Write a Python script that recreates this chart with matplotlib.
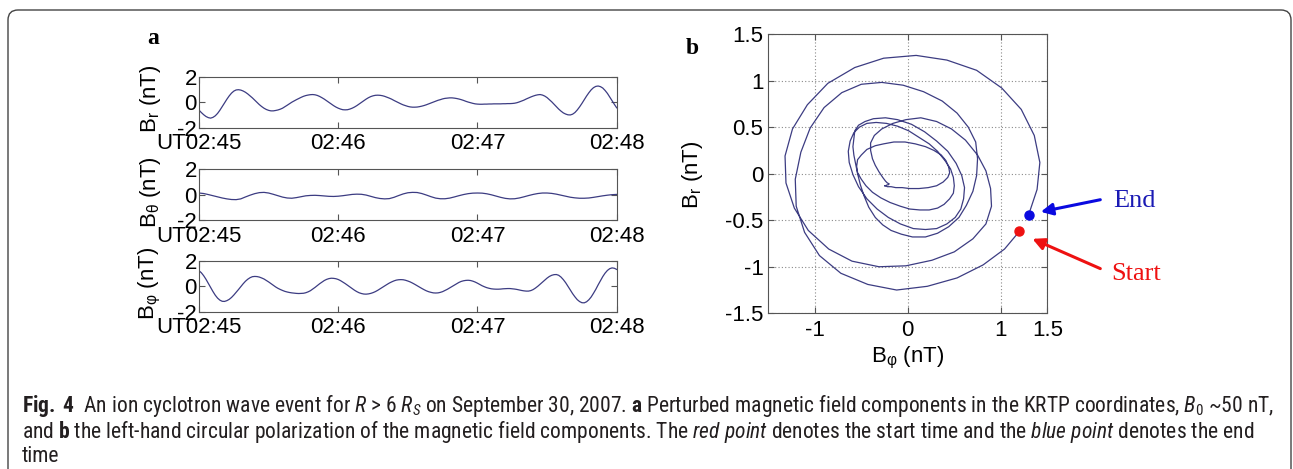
import numpy as np
import matplotlib
matplotlib.use("Agg")
import matplotlib.pyplot as plt
from matplotlib import font_manager as fm
from matplotlib.patches import FancyBboxPatch

W, H = 1293, 469

# --- Données (secondes depuis 02:45:00 UT)
t_sec = np.arange(0, 181, 1)      # B_r et B_phi, pas de 1 s
t_theta = np.arange(0, 181, 2)    # B_theta, pas de 2 s

b_r = [
    -0.62, -0.81, -0.98, -1.12, -1.21, -1.25, -1.19, -1.07, -0.88, -0.63,
    -0.35, -0.06, 0.23, 0.49, 0.71, 0.87, 0.96, 0.98, 0.95, 0.88,
    0.78, 0.65, 0.50, 0.34, 0.16, -0.02, -0.19, -0.34, -0.47, -0.57,
    -0.64, -0.68, -0.68, -0.65, -0.61, -0.55, -0.47, -0.36, -0.24, -0.12,
    0.00, 0.10, 0.20, 0.29, 0.38, 0.46, 0.52, 0.56, 0.59, 0.60,
    0.58, 0.53, 0.45, 0.35, 0.24, 0.11, -0.02, -0.15, -0.27, -0.38,
    -0.47, -0.54, -0.59, -0.60, -0.59, -0.54, -0.47, -0.38, -0.27, -0.14,
    -0.01, 0.12, 0.24, 0.35, 0.44, 0.50, 0.54, 0.55, 0.54, 0.51,
    0.46, 0.39, 0.32, 0.24, 0.14, 0.05, -0.04, -0.13, -0.21, -0.27,
    -0.33, -0.37, -0.39, -0.39, -0.38, -0.35, -0.31, -0.26, -0.20, -0.13,
    -0.06, 0.01, 0.08, 0.15, 0.20, 0.26, 0.30, 0.32, 0.34, 0.34,
    0.32, 0.29, 0.25, 0.20, 0.14, 0.07, 0.01, -0.04, -0.09, -0.13,
    -0.15, -0.16, -0.16, -0.15, -0.15, -0.14, -0.14, -0.13, -0.13, -0.13,
    -0.13, -0.12, -0.12, -0.11, -0.11, -0.10, -0.08, -0.04, 0.02, 0.09,
    0.16, 0.25, 0.33, 0.41, 0.48, 0.54, 0.58, 0.60, 0.56, 0.48,
    0.36, 0.20, 0.03, -0.16, -0.35, -0.54, -0.70, -0.84, -0.93, -0.99,
    -1.00, -0.94, -0.81, -0.61, -0.37, -0.10, 0.19, 0.48, 0.74, 0.97,
    1.14, 1.24, 1.27, 1.22, 1.11, 0.92, 0.69, 0.41, 0.12, -0.17,
    -0.44,
]

b_phi = [
    1.20, 1.04, 0.81, 0.53, 0.21, -0.12, -0.43, -0.72, -0.95, -1.11,
    -1.20, -1.21, -1.15, -1.05, -0.90, -0.71, -0.50, -0.28, -0.05, 0.17,
    0.37, 0.53, 0.65, 0.73, 0.75, 0.74, 0.70, 0.63, 0.55, 0.44,
    0.32, 0.19, 0.05, -0.07, -0.18, -0.27, -0.35, -0.42, -0.47, -0.51,
    -0.54, -0.56, -0.58, -0.59, -0.58, -0.57, -0.53, -0.46, -0.37, -0.24,
    -0.11, 0.04, 0.18, 0.31, 0.43, 0.52, 0.58, 0.61, 0.60, 0.57,
    0.51, 0.42, 0.31, 0.19, 0.06, -0.08, -0.21, -0.33, -0.44, -0.53,
    -0.59, -0.63, -0.64, -0.62, -0.58, -0.52, -0.44, -0.34, -0.23, -0.11,
    0.01, 0.12, 0.23, 0.32, 0.40, 0.46, 0.49, 0.50, 0.49, 0.45,
    0.39, 0.32, 0.23, 0.13, 0.02, -0.08, -0.19, -0.29, -0.38, -0.45,
    -0.50, -0.54, -0.55, -0.54, -0.50, -0.44, -0.35, -0.26, -0.15, -0.03,
    0.08, 0.19, 0.28, 0.36, 0.41, 0.44, 0.45, 0.43, 0.38, 0.31,
    0.22, 0.12, 0.02, -0.06, -0.13, -0.18, -0.22, -0.24, -0.25, -0.25,
    -0.24, -0.22, -0.21, -0.20, -0.20, -0.22, -0.24, -0.27, -0.31, -0.35,
    -0.38, -0.40, -0.40, -0.36, -0.28, -0.16, -0.02, 0.14, 0.31, 0.47,
    0.62, 0.75, 0.84, 0.89, 0.90, 0.84, 0.70, 0.50, 0.26, -0.02,
    -0.31, -0.60, -0.85, -1.07, -1.22, -1.31, -1.32, -1.24, -1.08, -0.86,
    -0.57, -0.26, 0.09, 0.42, 0.74, 1.01, 1.22, 1.36, 1.42, 1.39,
    1.30,
]

b_theta = [
    0.14, 0.10, 0.02, -0.07, -0.16, -0.25, -0.32, -0.37, -0.38, -0.32,
    -0.17, -0.03, 0.09, 0.17, 0.19, 0.14, 0.04, -0.07, -0.18, -0.25,
    -0.27, -0.22, -0.15, -0.08, -0.05, -0.04, -0.06, -0.09, -0.12, -0.13,
    -0.11, -0.07, -0.02, 0.03, 0.05, 0.04, -0.02, -0.12, -0.22, -0.29,
    -0.32, -0.30, -0.20, -0.06, 0.07, 0.16, 0.19, 0.18, 0.10, -0.02,
    -0.15, -0.26, -0.31, -0.31, -0.26, -0.17, -0.07, 0.02, 0.09, 0.13,
    0.14, 0.13, 0.08, 0.00, -0.10, -0.20, -0.28, -0.32, -0.31, -0.25,
    -0.16, -0.06, 0.03, 0.10, 0.14, 0.14, 0.11, 0.05, -0.03, -0.11,
    -0.19, -0.24, -0.27, -0.27, -0.25, -0.20, -0.14, -0.08, -0.03, 0.01,
    0.03,
]

ts_ticks = [0, 60, 120, 180]
ts_ticklabels = ["UT02:45", "02:46", "02:47", "02:48"]
ts_ylabels = ["B$_\\mathsf{r}$ (nT)", "B$_\\mathsf{θ}$ (nT)", "B$_\\mathsf{φ}$ (nT)"]

hodo_xticks = [-1, 0, 1, 1.5]
hodo_yticks = [-1.5, -1, -0.5, 0, 0.5, 1, 1.5]

caption_lines = [
    r"$\mathbf{Fig.}$ $\mathbf{4}$  An ion cyclotron wave event for $\mathit{R}$ > 6 $\mathit{R}_\mathit{S}$ "
    r"on September 30, 2007. $\mathbf{a}$ Perturbed magnetic field components in the KRTP "
    r"coordinates, $\mathit{B}_\mathrm{0}$ ~50 nT,",
    r"and $\mathbf{b}$ the left-hand circular polarization of the magnetic field components. "
    r"The $\mathit{red\ point}$ denotes the start time and the $\mathit{blue\ point}$ denotes the end",
    "time",
]


def pick_font(cands):
    for c in cands:
        try:
            fm.findfont(fm.FontProperties(family=c), fallback_to_default=False)
            return c
        except ValueError:
            continue
    return "DejaVu Sans"


# police étroite pour la légende si disponible
cap_font = pick_font(["Liberation Sans Narrow", "Roboto Condensed", "Open Sans Condensed",
                      "Noto Sans Condensed", "DejaVu Sans Condensed", "Liberation Sans"])

plt.rcParams.update({
    "font.family": ["Liberation Sans", "DejaVu Sans"],
    "axes.unicode_minus": False,
    "mathtext.fontset": "custom",
    "mathtext.rm": cap_font,
    "mathtext.it": cap_font + ":italic",
    "mathtext.bf": cap_font + ":bold",
    "mathtext.sf": "Liberation Sans",
})

LINE = "#3c3c82"
FRAME = "#555555"


def fx(px):
    return px / W


def fy(py):
    return 1 - py / H


fig = plt.figure(figsize=(W / 100, H / 100), dpi=100)
fig.patch.set_facecolor("white")

# cadre arrondi
frame = FancyBboxPatch((0.08, -0.2), 12.83, 4.79, boxstyle="round,pad=0,rounding_size=0.1",
                       transform=fig.dpi_scale_trans, facecolor="none", edgecolor="#444444",
                       linewidth=1.0)
fig.patches.append(frame)


def style_axes(ax):
    for s in ax.spines.values():
        s.set_color(FRAME)
        s.set_linewidth(0.8)
    ax.tick_params(direction="in", top=True, right=True, length=4, width=0.8,
                   color=FRAME, labelsize=16, labelcolor="black")


# --- Panneau a : séries temporelles
tops = [76.7, 169.3, 260.5]
series = [(t_sec, b_r), (t_theta, b_theta), (t_sec, b_phi)]
for top, (tt, vals), lab in zip(tops, series, ts_ylabels):
    ax = fig.add_axes([fx(199), fy(top + 51), 417.7 / W, 51 / H])
    ax.plot(tt, vals, color=LINE, linewidth=0.9)
    ax.set_xlim(0, 180)
    ax.set_ylim(-2, 2)
    ax.set_xticks(ts_ticks)
    ax.set_xticklabels(ts_ticklabels)
    ax.set_yticks([-2, 0, 2])
    ax.set_yticklabels(["-2", "0", "2"])
    style_axes(ax)
    ax.tick_params(axis="x", pad=4)
    ax.tick_params(axis="y", pad=1.5)
    ax.set_ylabel(lab, fontsize=16)
    ax.yaxis.set_label_coords(-0.086, 0.56)

fig.text(fx(153), fy(38), "a", fontsize=17, fontweight="bold", family="Liberation Serif",
         ha="center", va="center")

# --- Panneau b : hodogramme B_phi / B_r
axb = fig.add_axes([fx(768.3), fy(313.3), 279 / W, 279.3 / H])
axb.plot(b_phi, b_r, color=LINE, linewidth=0.9)
axb.plot(b_phi[0], b_r[0], "o", color="#ee1111", markersize=6.5, zorder=5)
axb.plot(b_phi[-1], b_r[-1], "o", color="#0a0ae0", markersize=6.5, zorder=5)
axb.set_xlim(-1.5, 1.5)
axb.set_ylim(-1.5, 1.5)
axb.set_xticks(hodo_xticks)
axb.set_xticklabels(["-1", "0", "1", "1.5"])
axb.set_yticks(hodo_yticks)
axb.set_yticklabels(["-1.5", "-1", "-0.5", "0", "0.5", "1", "1.5"])
axb.grid(True, color="#8a8a8a", linestyle=(0, (1, 2)), linewidth=0.8)
style_axes(axb)
axb.tick_params(axis="x", pad=4.5)
axb.tick_params(axis="y", pad=3.5)
axb.set_xlabel("B$_\\mathsf{φ}$ (nT)", fontsize=16, va="top")
axb.xaxis.set_label_coords(0.5, -0.112)
axb.set_ylabel("B$_\\mathsf{r}$ (nT)", fontsize=16)
axb.yaxis.set_label_coords(-0.227, 0.495)

# flèches End / Start
axb.annotate("", xy=(1.43, -0.41), xytext=(2.07, -0.28), annotation_clip=False,
             arrowprops=dict(arrowstyle="-|>,head_length=0.7,head_width=0.35",
                             color="#0a0ae0", lw=2.2, shrinkA=0, shrinkB=0))
axb.annotate("", xy=(1.34, -0.70), xytext=(2.07, -1.02), annotation_clip=False,
             arrowprops=dict(arrowstyle="-|>,head_length=0.7,head_width=0.35",
                             color="#ee1111", lw=2.2, shrinkA=0, shrinkB=0))
fig.text(fx(1113), fy(206.5), "End", fontsize=19, color="#1a1ab4", family="Liberation Serif",
         ha="left", va="baseline")
fig.text(fx(1111), fy(280), "Start", fontsize=19, color="#ee1111", family="Liberation Serif",
         ha="left", va="baseline")

fig.text(fx(692), fy(48), "b", fontsize=17, fontweight="bold", family="Liberation Serif",
         ha="center", va="center")

# --- Légende (caption), taille ajustée pour couvrir la même largeur
baselines = [412, 437.5, 462]
cap_texts = []
for line, yb in zip(caption_lines, baselines):
    cap_texts.append(fig.text(fx(22), fy(yb), line, fontsize=13.5, family=cap_font,
                              color="#231f20", ha="left", va="baseline"))

fig.canvas.draw()
w = cap_texts[0].get_window_extent().width
size = min(16.5, 13.5 * 1253 / w)
for t in cap_texts:
    t.set_fontsize(size)

fig.savefig("out.png", dpi=100, facecolor="white")
